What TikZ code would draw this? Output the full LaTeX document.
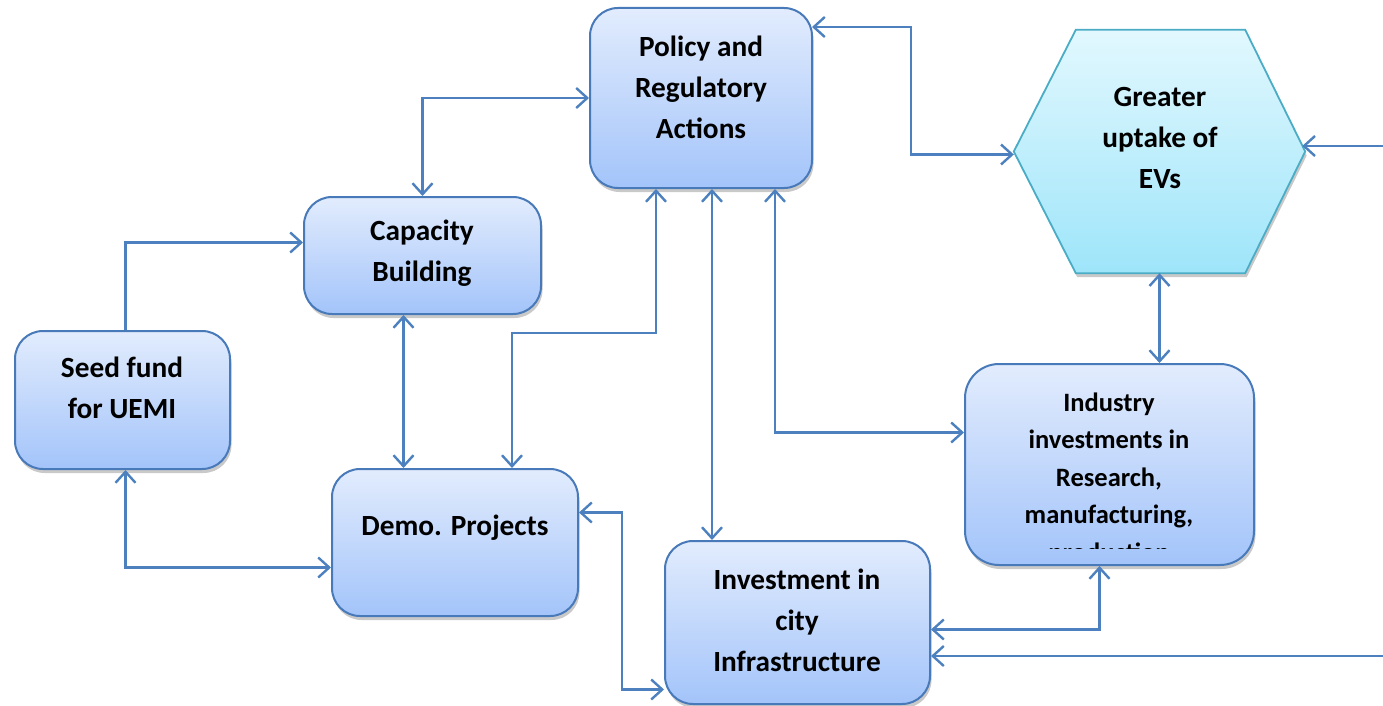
\documentclass[tikz,border=0pt]{standalone}
\usepackage{fontspec}
\setmainfont{Carlito}
\usetikzlibrary{arrows.meta,shadows}

\definecolor{linkblue}{RGB}{76,128,190}
\definecolor{boxedge}{RGB}{72,122,186}
\definecolor{boxtop}{RGB}{226,236,253}
\definecolor{boxbot}{RGB}{163,196,250}
\definecolor{hexedge}{RGB}{75,172,198}
\definecolor{hextop}{RGB}{226,248,254}
\definecolor{hexbot}{RGB}{158,229,250}

\tikzset{
  stage/.style={draw=boxedge, line width=2pt, rounded corners=28pt,
    top color=boxtop, bottom color=boxbot, inner sep=0pt,
    drop shadow={shadow xshift=1.5pt, shadow yshift=-4pt, opacity=0.3, fill=black!70}},
  goal/.style={draw=hexedge, line width=1.8pt, top color=hextop, bottom color=hexbot,
    drop shadow={shadow xshift=1.5pt, shadow yshift=-4pt, opacity=0.3, fill=black!70}},
  caption/.style={font=\bfseries\fontsize{29.3}{41}\selectfont, align=center, inner sep=0pt},
  smallcaption/.style={font=\bfseries\fontsize{26.5}{37.5}\selectfont, align=center, inner sep=0pt},
  link/.style={draw=linkblue, line width=2.4pt,
    >={Straight Barb[length=11pt,width=20pt]}}
}

\begin{document}
\begin{tikzpicture}[x=1pt,y=-1pt]
\useasboundingbox (0,0) rectangle (1383,706);

% boxes
\node[stage, minimum width=222pt, minimum height=180pt] (pol)  at (701,98) {};
\node[stage, minimum width=237pt, minimum height=117pt] (cap)  at (422.5,255.5) {};
\node[stage, minimum width=215pt, minimum height=138pt] (seed) at (122.5,400) {};
\node[stage, minimum width=246pt, minimum height=147pt] (demo) at (455,542.5) {};
\node[stage, minimum width=289pt, minimum height=201pt, rounded corners=34pt] (ind) at (1109.5,464.5) {};
\node[stage, minimum width=265pt, minimum height=163pt] (inv)  at (797.5,622.5) {};

% hexagonal goal
\node[minimum width=291pt, minimum height=243pt, inner sep=0pt] (hex) at (1159.5,151.5) {};
\path[goal] (hex.west) -- ([xshift=62pt]hex.north west) -- ([xshift=-60pt]hex.north east)
  -- (hex.east) -- ([xshift=-60pt]hex.south east) -- ([xshift=62pt]hex.south west) -- cycle;

% captions
\node[caption] (polT)  at (701,87)    {Policy and\\Regulatory\\Actions};
\node[caption] (capT)  at (422,253)   {Capacity\\Building};
\node[caption] (seedT) at (122,388)   {Seed fund\\for UEMI};
\node[caption] (demoT) at (455,528)   {Demo. Projects};
\node[caption] (invT)  at (797,620)   {Investment in\\city\\Infrastructure};
\node[caption] (hexT)  at (1160,137.5) {Greater\\uptake of\\EVs};
\begin{scope}
  \clip (ind.north west) rectangle ([yshift=18pt]ind.south east);
  \node[smallcaption] (indT) at (1109,479) {Industry\\investments in\\Research,\\manufacturing,\\production};
\end{scope}

% free ends at the right margin
\coordinate (eastA) at (1383,146);
\coordinate (eastB) at (1383,656);

% connectors
\draw[link,<->] (cap.north) |- (pol.west);
\draw[link,->] ([xshift=3pt]seed.north) |- ([yshift=13pt]cap.west);
\draw[link,<->] ([xshift=-19pt]cap.south) -- ([xshift=-19pt]cap.south |- demo.north);
\draw[link,<->] ([xshift=-45pt]pol.south) -- ++(0,144) -| ([xshift=57pt]demo.north);
\draw[link,<->] ([xshift=3pt]seed.south) |- ([yshift=-25pt]demo.west);
\draw[link,<->] ([xshift=11pt]pol.south) -- ([xshift=11pt]pol.south |- inv.north);
\draw[link,<->] ([xshift=74pt]pol.south) |- ([yshift=32pt]ind.west);
\draw[link,<->] ([xshift=-1pt,yshift=-20pt]pol.north east) -- ++(99,0) |- ([yshift=-3pt]hex.west);
\draw[link,<->] (hex.south) -- (hex.south |- ind.north);
\draw[link,->] (eastA) -- ([xshift=-3pt]eastA -| hex.east);
\draw[link,<->] ([xshift=-10pt]ind.south) |- ([yshift=-7pt]inv.east);
\draw[link,->] (eastB) -- (eastB -| inv.east);
\draw[link,<->] ([yshift=-67pt]inv.west) -- ++(-42,0) |- ([yshift=30pt]demo.east);
\end{tikzpicture}
\end{document}
